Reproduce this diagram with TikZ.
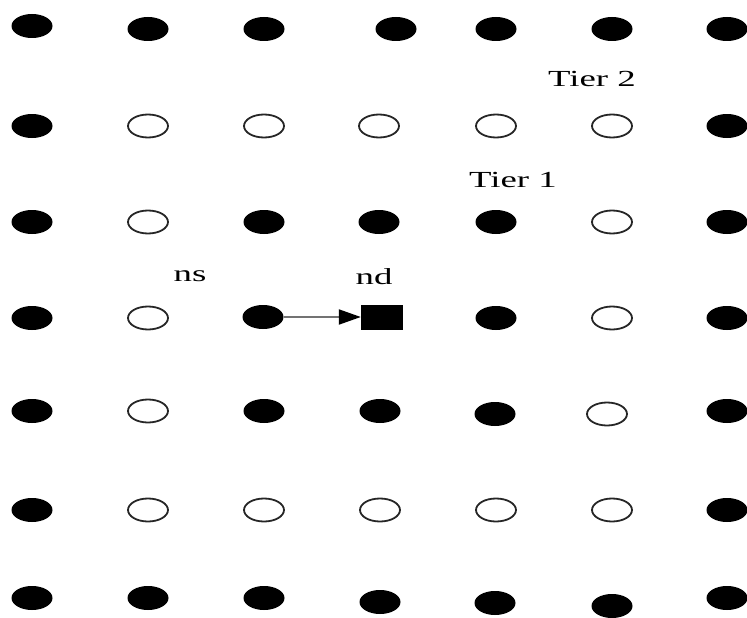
\documentclass[tikz,border=0pt]{standalone}
\usepackage{fontspec}
\setmainfont{Liberation Serif}
\usetikzlibrary{shapes.geometric,arrows.meta}
\newcommand{\wide}[1]{\scalebox{1.6}[1]{#1}}

\begin{document}
\begin{tikzpicture}[x=1pt,y=-1pt,
  fdot/.style={ellipse,fill=black,minimum width=41pt,minimum height=24pt,inner sep=0pt},
  odot/.style={ellipse,draw=black!85,line width=1.8pt,fill=white,minimum width=40pt,minimum height=23pt,inner sep=0pt},
  sq/.style={rectangle,fill=black,minimum width=42pt,minimum height=25pt,inner sep=0pt},
  lbl/.style={font=\fontsize{23}{25}\selectfont,anchor=base,inner sep=0pt}]
\useasboundingbox (0,0) rectangle (747,618);
% grid of nodes, one row per line (x/y/kind)
\foreach \row [count=\r] in {
  {32/26/fdot,148/29/fdot,264/29/fdot,396/29/fdot,496/29/fdot,612/29/fdot,727/29/fdot},
  {32/126/fdot,148/126/odot,264/126/odot,379/126/odot,496/126/odot,612/126/odot,727/126/fdot},
  {32/222/fdot,148/222/odot,264/222/fdot,379/222/fdot,496/222/fdot,612/222/odot,727/222/fdot},
  {32/318/fdot,148/318/odot,263/317/fdot,382/317/sq,496/318/fdot,612/318/odot,727/318/fdot},
  {32/411/fdot,148/411/odot,264/411/fdot,380/411/fdot,495/414/fdot,607/414/odot,727/411/fdot},
  {32/510/fdot,148/510/odot,264/510/odot,380/510/odot,496/510/odot,612/510/odot,727/510/fdot},
  {32/598/fdot,148/598/fdot,264/598/fdot,380/602/fdot,495/603/fdot,612/606/fdot,727/598/fdot}}
  \foreach \x/\y/\k [count=\c] in \row
    \node[\k] (d\r\c) at (\x,\y) {};
% hop from source to destination
\draw[black!55,line width=2pt,-{Triangle[length=22pt,width=15pt,color=black]}] (d43) -- (d44);
% labels
\node[lbl] (tier2) at (592,87) {\wide{Tier 2}};
\node[lbl] (tier1) at (513,187) {\wide{Tier 1}};
\node[lbl] (ns) at (190,281) {\wide{ns}};
\node[lbl] (nd) at (374,284) {\wide{nd}};
\end{tikzpicture}
\end{document}
